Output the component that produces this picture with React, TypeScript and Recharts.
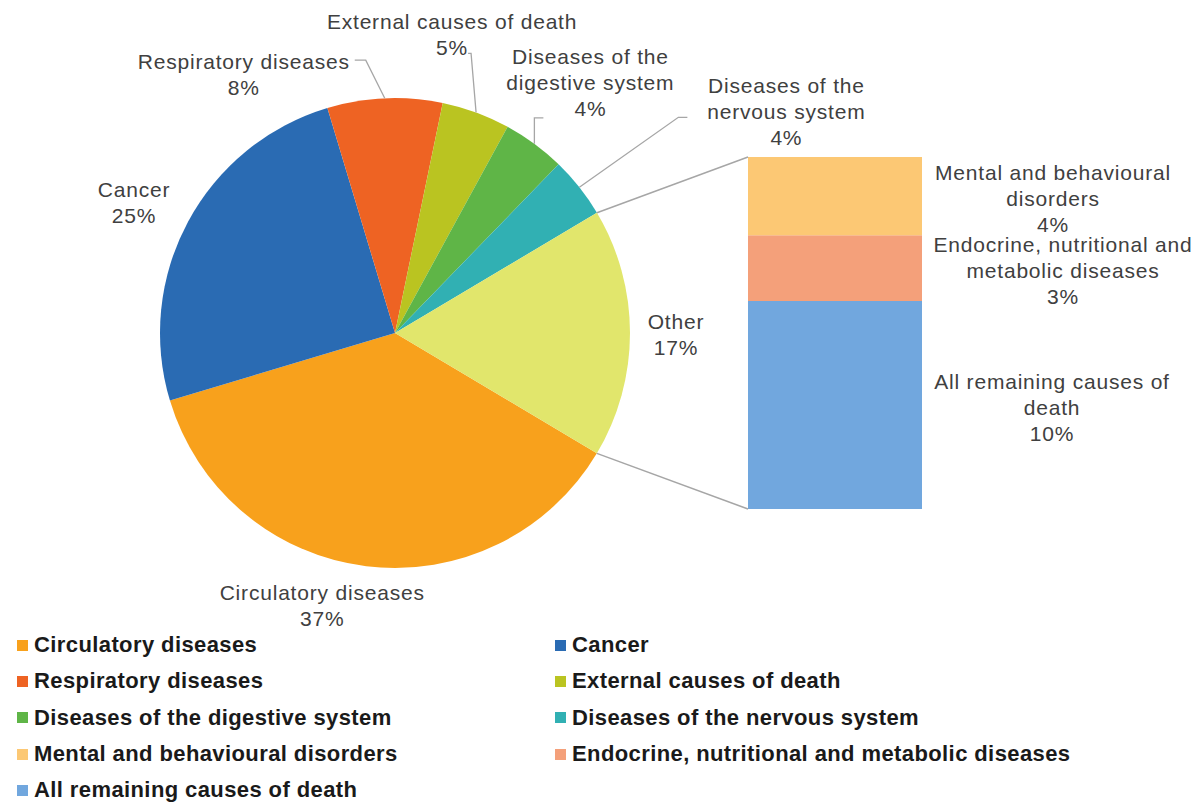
import React from 'react';
import { PieChart, Pie, Cell, BarChart, Bar, XAxis, YAxis, LabelList } from 'recharts';

// ---------- data ----------
const PIE_CATEGORIES = [
  'Circulatory diseases',
  'Cancer',
  'Respiratory diseases',
  'External causes of death',
  'Diseases of the digestive system',
  'Diseases of the nervous system',
];
const PIE_VALUES = [36.8, 25.0, 7.9, 4.7, 4.3, 4.2];

// breakdown of "Other" (bottom to top of the stacked bar)
const OTHER_CATEGORIES = [
  'All remaining causes of death',
  'Endocrine, nutritional and metabolic diseases',
  'Mental and behavioural disorders',
];
const OTHER_VALUES = [10.1, 3.2, 3.8];

const PIE_LABEL_LINES = [
  ['Circulatory diseases'],
  ['Cancer'],
  ['Respiratory diseases'],
  ['External causes of death'],
  ['Diseases of the', 'digestive system'],
  ['Diseases of the', 'nervous system'],
  ['Other'],
];
const OTHER_LABEL_LINES = [
  ['All remaining causes of', 'death'],
  ['Endocrine, nutritional and', 'metabolic diseases'],
  ['Mental and behavioural', 'disorders'],
];

const LEGEND_ORDER = [
  'Circulatory diseases',
  'Cancer',
  'Respiratory diseases',
  'External causes of death',
  'Diseases of the digestive system',
  'Diseases of the nervous system',
  'Mental and behavioural disorders',
  'Endocrine, nutritional and metabolic diseases',
  'All remaining causes of death',
];

// ---------- styles ----------
const PIE_COLORS = ['#F8A11C', '#2A6BB3', '#EE6323', '#BAC421', '#5FB547', '#31B0B3', '#E1E66C'];
const OTHER_COLORS = ['#71A7DE', '#F4A07A', '#FCC874'];
const FONT = "'Liberation Sans', Arial, sans-serif";
const LABEL_COLOR = '#404040';
const LEADER_COLOR = '#A6A6A6';

const OTHER_TOTAL = OTHER_VALUES.reduce((a, b) => a + b, 0);
const pieData = [
  ...PIE_CATEGORIES.map((name, i) => ({ name, value: PIE_VALUES[i] })),
  { name: 'Other', value: OTHER_TOTAL },
];
const barRow: Record<string, any> = { name: 'Other' };
OTHER_CATEGORIES.forEach((c, i) => (barRow[c] = OTHER_VALUES[i]));
const barData = [barRow];

const colorOf: Record<string, string> = {};
pieData.forEach((d, i) => (colorOf[d.name] = PIE_COLORS[i]));
OTHER_CATEGORIES.forEach((c, i) => (colorOf[c] = OTHER_COLORS[i]));

// ---------- layout ----------
const W = 1197;
const H = 803;
const PIE_CX = 395;
const PIE_CY = 333;
const PIE_R = 235;
const START_ANGLE = -30.8;
const END_ANGLE = START_ANGLE - 360;

const BAR_CHART_LEFT = 740;
const BAR_CHART_W = 457;
const BAR_MARGIN = { top: 157, right: 275, bottom: 294, left: 8 };
const BAR_LEFT = BAR_CHART_LEFT + BAR_MARGIN.left;
const BAR_TOP = BAR_MARGIN.top;
const BAR_BOTTOM = H - BAR_MARGIN.bottom;

const RAD = Math.PI / 180;
const polar = (cx: number, cy: number, r: number, a: number) => ({
  x: cx + r * Math.cos(-a * RAD),
  y: cy + r * Math.sin(-a * RAD),
});

// label placement relative to the slice's outer mid point
const PIE_LABEL_LAYOUT = [
  { dx: -44, dy: 26, leader: null },
  { dx: -54, dy: -32, leader: null },
  { dx: -141, dy: -37, leader: [[-19, -38], [-30, -38]] },
  { dx: -24, dy: -91, leader: [[-5, -59], [-8, -59]] },
  { dx: 56, dy: -87, leader: [[0, -26], [9, -26]] },
  { dx: 207, dy: -102, leader: [[99, -70], [108, -70]] },
  { dx: 46, dy: -12, leader: null },
];
const LINE_H = 26;
const LABEL_FONT = 21;
const LABEL_LS = 0.8;

const renderPieLabel = (props: any) => {
  const { cx, cy, midAngle, outerRadius, index, value } = props;
  const a = polar(cx, cy, outerRadius, midAngle);
  const lay = PIE_LABEL_LAYOUT[index];
  const lines = [...PIE_LABEL_LINES[index], `${Math.round(value)}%`];
  const tx = a.x + lay.dx;
  const ty = a.y + lay.dy;
  return (
    <g key={`pl-${index}`}>
      {lay.leader && (
        <polyline
          points={[[0, 0], ...lay.leader].map(([px, py]) => `${a.x + px},${a.y + py}`).join(' ')}
          fill="none"
          stroke={LEADER_COLOR}
          strokeWidth={1.3}
        />
      )}
      <text
        textAnchor="middle"
        fill={LABEL_COLOR}
        fontSize={LABEL_FONT}
        fontFamily={FONT}
        letterSpacing={LABEL_LS}
      >
        {lines.map((l, i) => (
          <tspan key={i} x={tx} y={ty + i * LINE_H} dominantBaseline="central">
            {l}
          </tspan>
        ))}
      </text>
    </g>
  );
};

const BAR_LABEL_DX = [130, 141, 131];
const makeBarLabel = (si: number) => (props: any) => {
  const { x, y, width, height, value } = props;
  const lines = [...OTHER_LABEL_LINES[si], `${Math.round(Number(value))}%`];
  const tx = Number(x) + Number(width) + BAR_LABEL_DX[si];
  const cyMid = Number(y) + Number(height) / 2 + 2;
  const y0 = cyMid - ((lines.length - 1) * LINE_H) / 2;
  return (
    <text
      textAnchor="middle"
      fill={LABEL_COLOR}
      fontSize={LABEL_FONT}
      fontFamily={FONT}
      letterSpacing={LABEL_LS}
    >
      {lines.map((l, i) => (
        <tspan key={i} x={tx} y={y0 + i * LINE_H} dominantBaseline="central">
          {l}
        </tspan>
      ))}
    </text>
  );
};

export default function App() {
  const firstSum = PIE_VALUES.reduce((a, b) => a + b, 0);
  const total = firstSum + OTHER_TOTAL;
  const otherStart = START_ANGLE - (360 * firstSum) / total;
  const p1 = polar(PIE_CX, PIE_CY, PIE_R, otherStart);
  const p2 = polar(PIE_CX, PIE_CY, PIE_R, END_ANGLE);

  return (
    <div
      style={{
        position: 'absolute',
        left: 0,
        top: 0,
        width: W,
        height: H,
        background: '#fff',
        fontFamily: FONT,
        overflow: 'hidden',
      }}
    >
      <div style={{ position: 'absolute', left: 0, top: 0 }}>
        <PieChart width={W} height={H} margin={{ top: 0, right: 0, bottom: 0, left: 0 }}>
          <Pie
            data={pieData}
            dataKey="value"
            nameKey="name"
            cx={PIE_CX}
            cy={PIE_CY}
            outerRadius={PIE_R}
            startAngle={START_ANGLE}
            endAngle={END_ANGLE}
            stroke="none"
            label={renderPieLabel}
            labelLine={false}
            isAnimationActive={false}
          >
            {pieData.map((d, i) => (
              <Cell key={d.name} fill={PIE_COLORS[i]} />
            ))}
          </Pie>
        </PieChart>
      </div>

      <div style={{ position: 'absolute', left: BAR_CHART_LEFT, top: 0 }}>
        <BarChart width={BAR_CHART_W} height={H} data={barData} margin={BAR_MARGIN} barCategoryGap={0}>
          <XAxis dataKey="name" hide />
          <YAxis type="number" hide domain={[0, OTHER_TOTAL]} allowDataOverflow />
          {OTHER_CATEGORIES.map((c, i) => (
            <Bar key={c} dataKey={c} stackId="other" fill={OTHER_COLORS[i]} isAnimationActive={false}>
              <LabelList dataKey={c} content={makeBarLabel(i)} />
            </Bar>
          ))}
        </BarChart>
      </div>

      <svg
        width={W}
        height={H}
        style={{ position: 'absolute', left: 0, top: 0, pointerEvents: 'none' }}
      >
        <line x1={p1.x} y1={p1.y} x2={BAR_LEFT} y2={BAR_TOP} stroke={LEADER_COLOR} strokeWidth={1.5} />
        <line x1={p2.x} y1={p2.y} x2={BAR_LEFT} y2={BAR_BOTTOM} stroke={LEADER_COLOR} strokeWidth={1.5} />
      </svg>

      <div
        style={{
          position: 'absolute',
          left: 17,
          top: 627,
          display: 'grid',
          gridTemplateColumns: '538px 600px',
          gridAutoRows: '36.3px',
        }}
      >
        {LEGEND_ORDER.map((name) => (
          <div key={name} style={{ display: 'flex', alignItems: 'center', whiteSpace: 'nowrap' }}>
            <span
              style={{
                display: 'inline-block',
                width: 11,
                height: 11,
                background: colorOf[name],
                marginRight: 6,
              }}
            />
            <span
              style={{
                fontWeight: 'bold',
                fontSize: 22,
                letterSpacing: 0.4,
                color: '#1a1a1a',
              }}
            >
              {name}
            </span>
          </div>
        ))}
      </div>
    </div>
  );
}
